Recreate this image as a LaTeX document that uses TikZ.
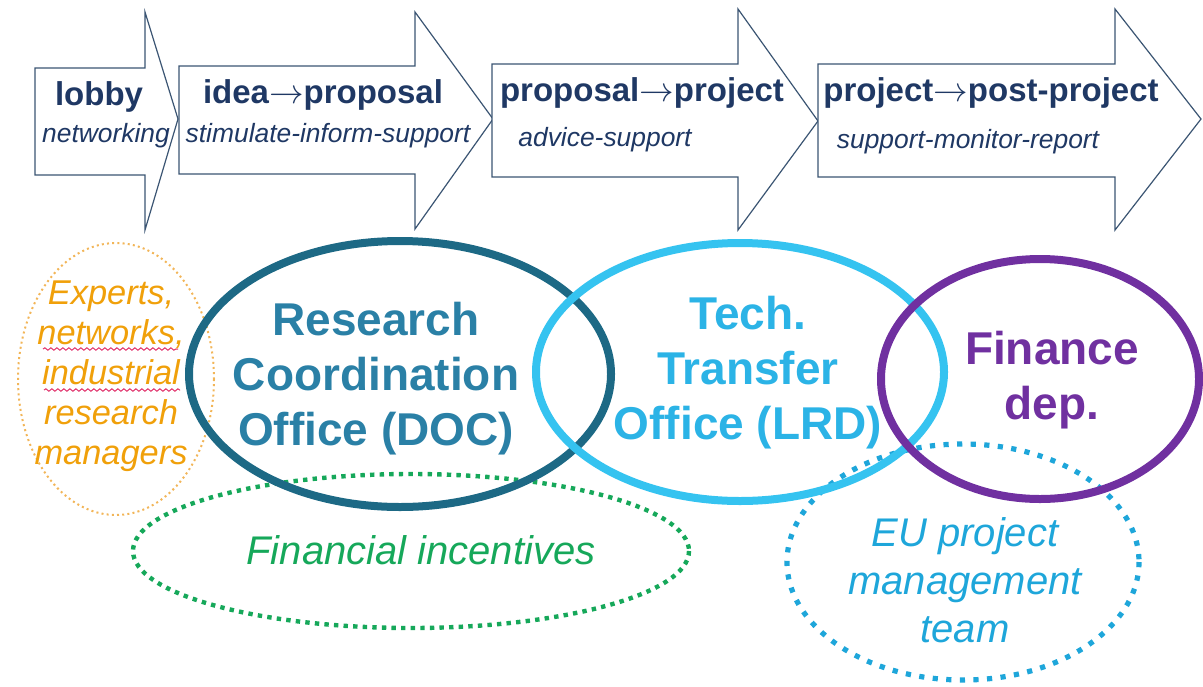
\documentclass[tikz,border=0pt]{standalone}
\usepackage{fontspec}
\setmainfont{Liberation Sans}
\usetikzlibrary{decorations.pathmorphing}
\definecolor{navy}{HTML}{1F3864}
\definecolor{arrowline}{HTML}{3B5573}
\definecolor{docline}{HTML}{1D6985}
\definecolor{doctext}{HTML}{2A80A6}
\definecolor{lrdline}{HTML}{35C3F0}
\definecolor{lrdtext}{HTML}{2BB3E6}
\definecolor{finpurple}{HTML}{7030A0}
\definecolor{expertorange}{HTML}{F0A00A}
\definecolor{expertdots}{HTML}{F2B558}
\definecolor{incgreen}{HTML}{16A85A}
\definecolor{eublue}{HTML}{1EA6DA}
\definecolor{squiggle}{HTML}{E0306A}
\begin{document}
\begin{tikzpicture}[x=0.5pt,y=-0.5pt,
	every node/.style={inner sep=1,outer sep=0},
	stage/.style={draw=arrowline,line width=0.6pt,fill=white,line join=miter},
	phase/.style={text=navy,font=\fontsize{16.5}{19}\selectfont\bfseries},
	task/.style={text=navy,font=\fontsize{13.2}{16}\selectfont\itshape},
	office/.style={align=center,font=\fontsize{23}{27.5}\selectfont\bfseries},
	side/.style={align=center,font=\fontsize{17.2}{20}\selectfont\itshape},
	spell/.style={draw=squiggle,line width=0.5pt,decorate,decoration={snake,amplitude=0.6pt,segment length=3pt}}]
	\useasboundingbox (0,0) rectangle (1203,686);
	% process arrows
	\draw[stage] (35,68) -- (145,68) -- (145,12) -- (178,119) -- (145,230) -- (145,175) -- (35,175) -- cycle;
	\draw[stage] (179,66) -- (415,66) -- (415,12) -- (493,119) -- (415,229) -- (415,174) -- (179,174) -- cycle;
	\draw[stage] (492,64) -- (738,64) -- (738,9) -- (818,121) -- (738,230) -- (738,177) -- (492,177) -- cycle;
	\draw[stage] (818,64) -- (1115,64) -- (1115,9) -- (1201,119) -- (1115,230) -- (1115,177) -- (818,177) -- cycle;
	\node[phase] (lobby) at (99,97) {lobby};
	\node[task] (net) at (106,136) {networking};
	\node[phase] (idea) at (323,95) {idea$\rightarrow$proposal};
	\node[task] (stim) at (328,136) {stimulate-inform-support};
	\node[phase] (prop) at (642,93) {proposal$\rightarrow$project};
	\node[task] (advice) at (605,140) {advice-support};
	\node[phase] (proj) at (991,93) {project$\rightarrow$post-project};
	\node[task] (monitor) at (968,142) {support-monitor-report};
	% dotted helpers
	\draw[expertdots,line width=1pt,dash pattern=on 1pt off 1.6pt] (116,379) ellipse (98 and 136);
	\draw[incgreen,line width=2.2pt,dash pattern=on 2.2pt off 2.6pt] (411,551) ellipse (278 and 77);
	\draw[eublue,line width=2.6pt,dash pattern=on 2.6pt off 4.2pt] (963,562) ellipse (176 and 118);
	% offices
	\draw[docline,line width=4pt] (400,374) ellipse (211 and 133);
	\draw[lrdline,line width=4pt] (740,372) ellipse (204 and 129);
	\draw[finpurple,line width=4pt] (1040,379) ellipse (159 and 120);
	\node[office,text=doctext] (doc) at (376,379) {Research\\Coordination\\Office (DOC)};
	\node[office,text=lrdtext] (lrd) at (748,373) {Tech.\\Transfer\\Office (LRD)};
	\node[office,text=finpurple] (fin) at (1052,380) {Finance\\dep.};
	\node[side,text=expertorange] (experts) at (111,376) {Experts,\\networks,\\industrial\\research\\managers};
	\node[side,font=\fontsize{20}{24}\selectfont\itshape,text=incgreen] (incent) at (421,550) {Financial incentives};
	\node[side,font=\fontsize{20}{24}\selectfont\itshape,text=eublue] (eu) at (965,580) {EU project\\management\\team};
	\draw[spell] (43,349) -- (178,349);
	\draw[spell] (44,390) -- (180,390);
\end{tikzpicture}
\end{document}
